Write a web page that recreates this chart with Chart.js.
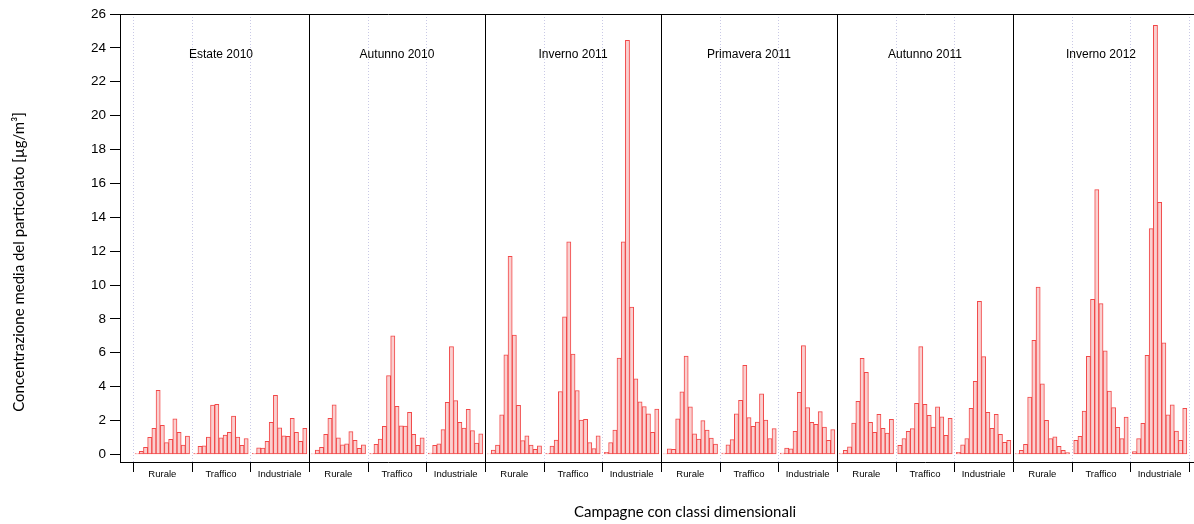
<!DOCTYPE html>
<html>
<head>
<meta charset="utf-8">
<script src="https://cdn.jsdelivr.net/npm/chart.js@4.4.1/dist/chart.umd.min.js"></script>
<style>
  html, body { margin: 0; padding: 0; background: #fff; }
  #wrap { width: 1194px; height: 524px; }
</style>
</head>
<body>
<div id="wrap"><canvas id="chart" width="1194" height="524"></canvas></div>
<script>
// campaigns and sites
var campaigns = ['Estate 2010', 'Autunno 2010', 'Inverno 2011', 'Primavera 2011', 'Autunno 2011', 'Inverno 2012'];
var sites = ['Rurale', 'Traffico', 'Industriale'];

// 13 size classes per site, order: Rurale, Traffico, Industriale
var estate2010 = [
    [0.04, 0.18, 0.41, 1.0, 1.54, 3.78, 1.71, 0.69, 0.89, 2.1, 1.3, 0.55, 1.08],
    [0.06, 0.47, 0.51, 1.02, 2.91, 2.95, 0.98, 1.14, 1.3, 2.26, 1.02, 0.53, 0.94],
    [0.06, 0.39, 0.37, 0.77, 1.89, 3.48, 1.57, 1.1, 1.06, 2.13, 1.3, 0.77, 1.54]
];
var autunno2010 = [
    [0.02, 0.26, 0.41, 1.18, 2.13, 2.93, 0.98, 0.57, 0.63, 1.34, 0.83, 0.35, 0.57],
    [0.06, 0.59, 0.91, 1.65, 4.65, 7.0, 2.83, 1.69, 1.67, 2.48, 1.18, 0.53, 0.98],
    [0.08, 0.53, 0.63, 1.46, 3.07, 6.36, 3.17, 1.89, 1.56, 2.66, 1.4, 0.67, 1.22]
];
var inverno2011 = [
    [0.03, 0.26, 0.55, 2.33, 5.88, 11.7, 7.05, 2.9, 0.81, 1.09, 0.55, 0.3, 0.51],
    [0.06, 0.49, 0.85, 3.71, 8.12, 12.55, 5.92, 3.77, 2.03, 2.07, 0.69, 0.34, 1.09],
    [0.12, 0.69, 1.44, 5.69, 12.55, 24.45, 8.69, 4.46, 3.1, 2.82, 2.39, 1.3, 2.68]
];
var primavera2011 = [
    [0.02, 0.33, 0.3, 2.1, 3.7, 5.81, 2.8, 1.22, 0.91, 1.99, 1.44, 0.96, 0.61],
    [0.08, 0.57, 0.87, 2.4, 3.19, 5.26, 2.17, 1.65, 1.91, 3.58, 2.03, 0.94, 1.52],
    [0.08, 0.37, 0.33, 1.36, 3.66, 6.42, 2.76, 1.89, 1.77, 2.52, 1.61, 0.83, 1.46]
];
var autunno2011 = [
    [0.04, 0.24, 0.45, 1.85, 3.13, 5.67, 4.84, 1.89, 1.3, 2.36, 1.54, 1.26, 2.07],
    [0.53, 0.94, 1.36, 1.52, 3.01, 6.36, 2.95, 2.3, 1.61, 2.8, 2.22, 1.12, 2.13],
    [0.12, 0.57, 0.94, 2.72, 4.31, 9.04, 5.77, 2.48, 1.54, 2.36, 1.18, 0.71, 0.83]
];
var inverno2012 = [
    [0.04, 0.24, 0.59, 3.39, 6.73, 9.88, 4.17, 2.01, 0.93, 1.04, 0.47, 0.24, 0.1],
    [0.83, 1.06, 2.56, 5.79, 9.15, 15.63, 8.9, 6.12, 3.74, 2.76, 1.59, 0.93, 2.2],
    [0.16, 0.93, 1.83, 5.85, 13.33, 25.33, 14.88, 6.59, 2.34, 2.93, 1.38, 0.83, 2.72]
];

var yTicks = [0, 2, 4, 6, 8, 10, 12, 14, 16, 18, 20, 22, 24, 26];

var series = [estate2010, autunno2010, inverno2011, primavera2011, autunno2011, inverno2012];
var slots = 14;          // 13 bars + one gap per site group
var nGroups = campaigns.length * sites.length;

// bar i of group g sits at g*slots + i + 1
var points = [];
for (var c = 0; c < series.length; c++) {
    for (var s = 0; s < sites.length; s++) {
        var g = c * sites.length + s;
        for (var i = 0; i < series[c][s].length; i++) {
            points.push({ x: g * slots + i + 1, y: series[c][s][i] });
        }
    }
}

var sansFont = '"Liberation Sans", Arial, sans-serif';
var titleFont = 'Lato, "Open Sans", sans-serif';

// separators, bottom axis, labels and titles
var overlay = {
    id: 'overlay',
    beforeDatasetsDraw: function (chart) {
        var ctx = chart.ctx;
        var area = chart.chartArea;
        var xs = chart.scales.x;
        ctx.save();
        ctx.lineWidth = 1;
        for (var g = 0; g <= nGroups; g++) {
            var px = Math.round(xs.getPixelForValue(g * slots)) + 0.5;
            var major = g % sites.length === 0 && g > 0 && g < nGroups;
            ctx.beginPath();
            if (major) {
                ctx.strokeStyle = '#000';
                ctx.setLineDash([]);
            } else {
                ctx.strokeStyle = '#c9c9e6';
                ctx.setLineDash([1, 2]);
            }
            ctx.moveTo(px, area.top);
            ctx.lineTo(px, area.bottom);
            ctx.stroke();
            // tick below the axis
            ctx.setLineDash([]);
            ctx.strokeStyle = '#000';
            ctx.beginPath();
            ctx.moveTo(px, area.bottom);
            ctx.lineTo(px, area.bottom + 10);
            ctx.stroke();
        }
        // frame top and bottom axis
        ctx.strokeStyle = '#000';
        ctx.beginPath();
        ctx.moveTo(area.left, area.top + 0.5);
        ctx.lineTo(area.right, area.top + 0.5);
        ctx.moveTo(area.left, area.bottom + 0.5);
        ctx.lineTo(area.right, area.bottom + 0.5);
        ctx.stroke();

        ctx.fillStyle = '#000';
        ctx.textAlign = 'center';
        ctx.textBaseline = 'middle';
        // campaign names
        ctx.font = '12px ' + sansFont;
        for (var c = 0; c < campaigns.length; c++) {
            var cx = xs.getPixelForValue((c + 0.5) * sites.length * slots);
            ctx.fillText(campaigns[c], cx, 55);
        }
        // site names
        ctx.font = '9.5px ' + sansFont;
        for (var g2 = 0; g2 < nGroups; g2++) {
            var sx = xs.getPixelForValue((g2 + 0.5) * slots);
            ctx.fillText(sites[g2 % sites.length], sx, 474);
        }
        // axis titles
        ctx.font = '15px ' + titleFont;
        ctx.fillText('Campagne con classi dimensionali', 685, 512);
        ctx.save();
        ctx.translate(19, 262);
        ctx.rotate(-Math.PI / 2);
        ctx.fillText('Concentrazione media del particolato [µg/m³]', 0, 0);
        ctx.restore();
        ctx.restore();
    }
};

Chart.defaults.color = '#000';

var myChart = new Chart(document.getElementById('chart'), {
    type: 'bar',
    data: {
        datasets: [{
            data: points,
            backgroundColor: '#fad0d0',
            borderColor: '#f24848',
            borderWidth: 1,
            borderSkipped: false,
            barPercentage: 1,
            categoryPercentage: 1
        }]
    },
    options: {
        responsive: false,
        animation: false,
        layout: { padding: { top: 14, bottom: 62, left: 0, right: 0 } },
        plugins: {
            legend: { display: false },
            tooltip: { enabled: false }
        },
        scales: {
            x: {
                type: 'linear',
                min: -3.1,
                max: 253.2,
                offset: false,
                display: false
            },
            y: {
                min: -0.45,
                max: 26,
                afterBuildTicks: function (scale) {
                    scale.ticks = yTicks.map(function (v) { return { value: v }; });
                },
                afterFit: function (scale) {
                    scale.width = 120;
                },
                grid: {
                    drawOnChartArea: false,
                    tickLength: 10,
                    tickColor: '#000'
                },
                border: { color: '#000', width: 1 },
                ticks: {
                    padding: 4,
                    font: { family: sansFont, size: 13.5 }
                }
            }
        }
    },
    plugins: [overlay]
});
</script>
</body>
</html>
